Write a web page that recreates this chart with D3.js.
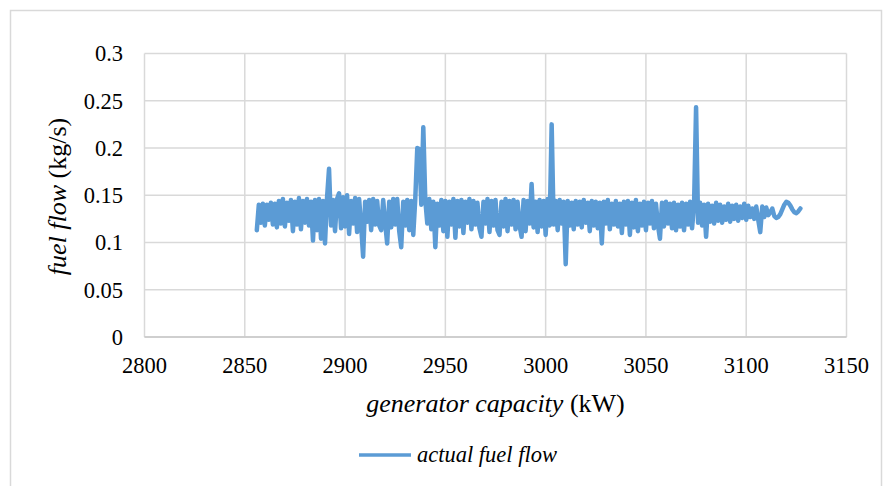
<!DOCTYPE html>
<html>
<head>
<meta charset="utf-8">
<script src="https://cdnjs.cloudflare.com/ajax/libs/d3/7.8.5/d3.min.js"></script>
<style>
  body { margin: 0; background: #fff; }
  svg text { font-family: "Liberation Serif", "Times New Roman", Tinos, "DejaVu Serif", serif; fill: #000; }
  .grid line { stroke: #d9d9d9; stroke-width: 1.5; }
  .tick-label { font-size: 22.5px; }
</style>
</head>
<body>
<svg width="894" height="486"></svg>
<script>
var svg = d3.select("svg");

var width = 894,
    height = 486;

var SERIF = "'Liberation Serif', 'Times New Roman', Tinos, 'DejaVu Serif', serif";

// generator capacity (kW)
var capacity = [
  2856, 2857, 2858, 2859, 2860, 2861, 2862, 2863, 2864, 2865,
  2866, 2867, 2868, 2869, 2870, 2871, 2872, 2873, 2874, 2875,
  2876, 2877, 2878, 2879, 2880, 2881, 2882, 2883, 2884, 2885,
  2886, 2887, 2888, 2889, 2890, 2891, 2892, 2893, 2894, 2895,
  2896, 2897, 2898, 2899, 2900, 2901, 2902, 2903, 2904, 2905,
  2906, 2907, 2908, 2909, 2910, 2911, 2912, 2913, 2914, 2915,
  2916, 2917, 2918, 2919, 2920, 2921, 2922, 2923, 2924, 2925,
  2926, 2927, 2928, 2929, 2930, 2931, 2932, 2933, 2934, 2935,
  2936, 2937, 2938, 2939, 2940, 2941, 2942, 2943, 2944, 2945,
  2946, 2947, 2948, 2949, 2950, 2951, 2952, 2953, 2954, 2955,
  2956, 2957, 2958, 2959, 2960, 2961, 2962, 2963, 2964, 2965,
  2966, 2967, 2968, 2969, 2970, 2971, 2972, 2973, 2974, 2975,
  2976, 2977, 2978, 2979, 2980, 2981, 2982, 2983, 2984, 2985,
  2986, 2987, 2988, 2989, 2990, 2991, 2992, 2993, 2994, 2995,
  2996, 2997, 2998, 2999, 3000, 3001, 3002, 3003, 3004, 3005,
  3006, 3007, 3008, 3009, 3010, 3011, 3012, 3013, 3014, 3015,
  3016, 3017, 3018, 3019, 3020, 3021, 3022, 3023, 3024, 3025,
  3026, 3027, 3028, 3029, 3030, 3031, 3032, 3033, 3034, 3035,
  3036, 3037, 3038, 3039, 3040, 3041, 3042, 3043, 3044, 3045,
  3046, 3047, 3048, 3049, 3050, 3051, 3052, 3053, 3054, 3055,
  3056, 3057, 3058, 3059, 3060, 3061, 3062, 3063, 3064, 3065,
  3066, 3067, 3068, 3069, 3070, 3071, 3072, 3073, 3074, 3075,
  3076, 3077, 3078, 3079, 3080, 3081, 3082, 3083, 3084, 3085,
  3086, 3087, 3088, 3089, 3090, 3091, 3092, 3093, 3094, 3095,
  3096, 3097, 3098, 3099, 3100, 3101, 3102, 3103, 3104, 3105,
  3106, 3107, 3108, 3109, 3110, 3111, 3112, 3113, 3114, 3115,
  3116, 3117, 3118, 3119, 3120, 3121, 3122, 3123, 3124, 3125, 3126, 3127
];

// actual fuel flow (kg/s)
var fuelFlow = [
  0.113, 0.140, 0.121, 0.141, 0.118, 0.140, 0.124, 0.142, 0.119, 0.141,
  0.116, 0.144, 0.120, 0.146, 0.117, 0.142, 0.123, 0.145, 0.112, 0.143,
  0.119, 0.147, 0.114, 0.144, 0.121, 0.146, 0.118, 0.143, 0.102, 0.145,
  0.113, 0.146, 0.104, 0.144, 0.099, 0.147, 0.178, 0.118, 0.145, 0.112,
  0.146, 0.152, 0.115, 0.148, 0.117, 0.150, 0.109, 0.144, 0.120, 0.147,
  0.111, 0.146, 0.118, 0.085, 0.143, 0.122, 0.145, 0.113, 0.146, 0.119,
  0.144, 0.118, 0.113, 0.145, 0.120, 0.099, 0.143, 0.116, 0.146, 0.119,
  0.146, 0.112, 0.095, 0.143, 0.118, 0.145, 0.113, 0.144, 0.108, 0.146,
  0.200, 0.199, 0.140, 0.222, 0.145, 0.120, 0.146, 0.114, 0.143, 0.095,
  0.141, 0.118, 0.145, 0.112, 0.144, 0.106, 0.143, 0.119, 0.146, 0.105,
  0.144, 0.117, 0.145, 0.110, 0.143, 0.121, 0.146, 0.114, 0.144, 0.119,
  0.142, 0.115, 0.106, 0.143, 0.120, 0.146, 0.111, 0.144, 0.118, 0.145,
  0.113, 0.108, 0.143, 0.117, 0.146, 0.112, 0.144, 0.119, 0.145, 0.114,
  0.143, 0.118, 0.106, 0.145, 0.112, 0.144, 0.120, 0.162, 0.116, 0.143,
  0.111, 0.145, 0.117, 0.144, 0.108, 0.146, 0.118, 0.225, 0.119, 0.144,
  0.113, 0.145, 0.120, 0.143, 0.077, 0.144, 0.118, 0.142, 0.114, 0.144,
  0.119, 0.143, 0.116, 0.145, 0.121, 0.142, 0.112, 0.144, 0.118, 0.143,
  0.115, 0.142, 0.099, 0.143, 0.120, 0.145, 0.114, 0.141, 0.119, 0.144,
  0.117, 0.141, 0.110, 0.143, 0.119, 0.144, 0.108, 0.142, 0.116, 0.145,
  0.112, 0.141, 0.118, 0.143, 0.113, 0.142, 0.120, 0.144, 0.115, 0.141,
  0.118, 0.104, 0.142, 0.117, 0.143, 0.120, 0.141, 0.115, 0.142, 0.113,
  0.140, 0.117, 0.142, 0.113, 0.141, 0.119, 0.143, 0.115, 0.140, 0.243,
  0.121, 0.142, 0.118, 0.140, 0.106, 0.141, 0.122, 0.139, 0.120, 0.142,
  0.123, 0.140, 0.121, 0.138, 0.124, 0.141, 0.122, 0.139, 0.125, 0.140,
  0.123, 0.138, 0.126, 0.141, 0.124, 0.139, 0.127, 0.136, 0.125, 0.138,
  0.124, 0.111, 0.138, 0.127, 0.137, 0.129, 0.132, 0.136, 0.128, 0.126,
  0.127, 0.130, 0.135, 0.140, 0.143, 0.142, 0.139, 0.135, 0.132, 0.131, 0.133, 0.136
];

var xTicks = [2800, 2850, 2900, 2950, 3000, 3050, 3100, 3150];
var yTicks = [0, 0.05, 0.1, 0.15, 0.2, 0.25, 0.3];
var seriesName = "actual fuel flow";

var LINECOLOR = "#5b9bd5";

var data = capacity.map(function (c, i) { return { x: c, y: fuelFlow[i] }; });

// outer chart frame
svg.append("rect")
    .attr("x", 10.5)
    .attr("y", 10.5)
    .attr("width", 871)
    .attr("height", 500)
    .attr("fill", "none")
    .attr("stroke", "#d9d9d9")
    .attr("stroke-width", 1.5);

var x = d3.scaleLinear().domain([2800, 3150]).range([144.5, 846.5]);
var y = d3.scaleLinear().domain([0, 0.3]).range([337, 53.5]);

// gridlines
var grid = svg.append("g").attr("class", "grid");
grid.selectAll("line.h")
    .data(yTicks)
    .enter().append("line")
    .attr("class", "h")
    .attr("x1", x(2800)).attr("x2", x(3150))
    .attr("y1", function (d) { return y(d); })
    .attr("y2", function (d) { return y(d); });
grid.selectAll("line.v")
    .data(xTicks)
    .enter().append("line")
    .attr("class", "v")
    .attr("y1", y(0)).attr("y2", y(0.3))
    .attr("x1", function (d) { return x(d); })
    .attr("x2", function (d) { return x(d); });

// bottom axis line
svg.append("line")
    .attr("x1", x(2800)).attr("x2", x(3150))
    .attr("y1", y(0)).attr("y2", y(0))
    .attr("stroke", "#c8c8c8")
    .attr("stroke-width", 1.5);

// tick labels
svg.append("g").selectAll("text")
    .data(yTicks)
    .enter().append("text")
    .attr("class", "tick-label")
    .attr("font-family", SERIF)
    .attr("x", 123)
    .attr("y", function (d) { return y(d); })
    .attr("dy", "0.35em")
    .attr("text-anchor", "end")
    .text(function (d) { return d; });

svg.append("g").selectAll("text")
    .data(xTicks)
    .enter().append("text")
    .attr("class", "tick-label")
    .attr("font-family", SERIF)
    .attr("x", function (d) { return x(d); })
    .attr("y", 373)
    .attr("text-anchor", "middle")
    .text(function (d) { return d; });

// series line
var line = d3.line()
    .x(function (d) { return x(d.x); })
    .y(function (d) { return y(d.y); });

svg.append("path")
    .datum(data)
    .attr("d", line)
    .attr("fill", "none")
    .attr("stroke", LINECOLOR)
    .attr("stroke-width", 4.5)
    .attr("stroke-linejoin", "round")
    .attr("stroke-linecap", "round");

// axis titles
var xTitle = svg.append("text")
    .attr("font-family", SERIF)
    .attr("x", (x(2800) + x(3150)) / 2)
    .attr("y", 411.5)
    .attr("text-anchor", "middle")
    .attr("font-size", "26px");
xTitle.append("tspan").attr("font-style", "italic").text("generator capacity");
xTitle.append("tspan").text(" (kW)");

var yTitle = svg.append("text")
    .attr("font-family", SERIF)
    .attr("transform", "translate(66," + 196.5 + ") rotate(-90)")
    .attr("text-anchor", "middle")
    .attr("font-size", "26px");
yTitle.append("tspan").attr("font-style", "italic").text("fuel flow");
yTitle.append("tspan").text(" (kg/s)");

// legend
svg.append("line")
    .attr("x1", 359).attr("x2", 411)
    .attr("y1", 455).attr("y2", 455)
    .attr("stroke", LINECOLOR)
    .attr("stroke-width", 3.5);

svg.append("text")
    .attr("font-family", SERIF)
    .attr("x", 417)
    .attr("y", 462)
    .attr("font-size", "22.5px")
    .attr("font-style", "italic")
    .text(seriesName);
</script>
</body>
</html>
